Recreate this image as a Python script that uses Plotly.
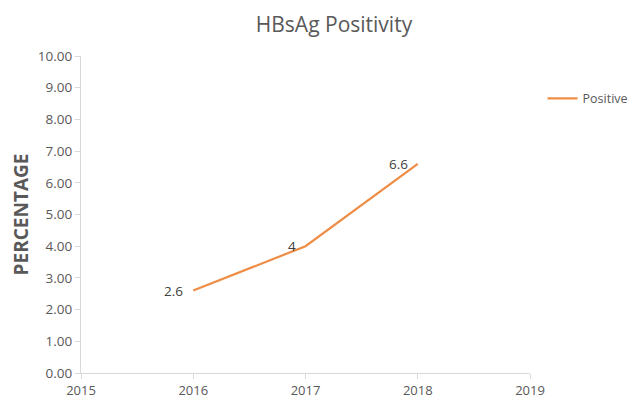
import plotly.graph_objects as go

years = [2016, 2017, 2018]
positive = [2.6, 4, 6.6]
labels = ["2.6", "4", "6.6"]
series_name = "Positive"

W, H = 628, 393  # page has an 8px body margin inside the 636x401 window

fig = go.Figure()
fig.add_trace(go.Scatter(
    x=years, y=positive, name=series_name, mode="lines",
    line=dict(color="#EE8D45", width=2.2),
))
for xv, yv, lb in zip(years, positive, labels):
    fig.add_annotation(x=xv, y=yv, text=lb, showarrow=False, xanchor="right", yanchor="middle",
                       xshift=-8, font=dict(family="Open Sans", size=13.5, color="#404040"))

fig.update_layout(
    width=W, height=H,
    margin=dict(l=73, r=106, t=48, b=28, autoexpand=False),
    paper_bgcolor="white", plot_bgcolor="white",
    title=dict(text="HBsAg Positivity", x=(334 - 8) / W, xref="container", xanchor="center",
               y=0.957, yanchor="middle",
               font=dict(family="Open Sans", size=21, color="#595959")),
    font=dict(family="Open Sans", size=12, color="#595959"),
    showlegend=True,
    legend=dict(x=1.028, y=0.865, xanchor="left", yanchor="middle",
                font=dict(family="Open Sans", size=12.5, color="#595959"),
                itemwidth=30, bgcolor="rgba(0,0,0,0)", borderwidth=0),
    xaxis=dict(range=[2015, 2019], dtick=1, tick0=2015, showgrid=False, zeroline=False,
               showline=True, linecolor="#D9D9D9", linewidth=1, automargin=False,
               ticks="outside", ticklen=5, tickcolor="#D9D9D9",
               tickfont=dict(family="Open Sans", size=13, color="#595959")),
    yaxis=dict(range=[0, 10], dtick=1, tickformat=".2f", showgrid=False, zeroline=False,
               showline=True, linecolor="#D9D9D9", linewidth=1, automargin=False,
               ticks="outside", ticklen=5, tickcolor="#D9D9D9",
               tickfont=dict(family="Open Sans", size=13.5, color="#595959"),
               title=dict(text="<b>PERCENTAGE</b>", standoff=10,
                          font=dict(family="Open Sans", size=19, color="#595959"))),
)

fig.write_html("out.html")
